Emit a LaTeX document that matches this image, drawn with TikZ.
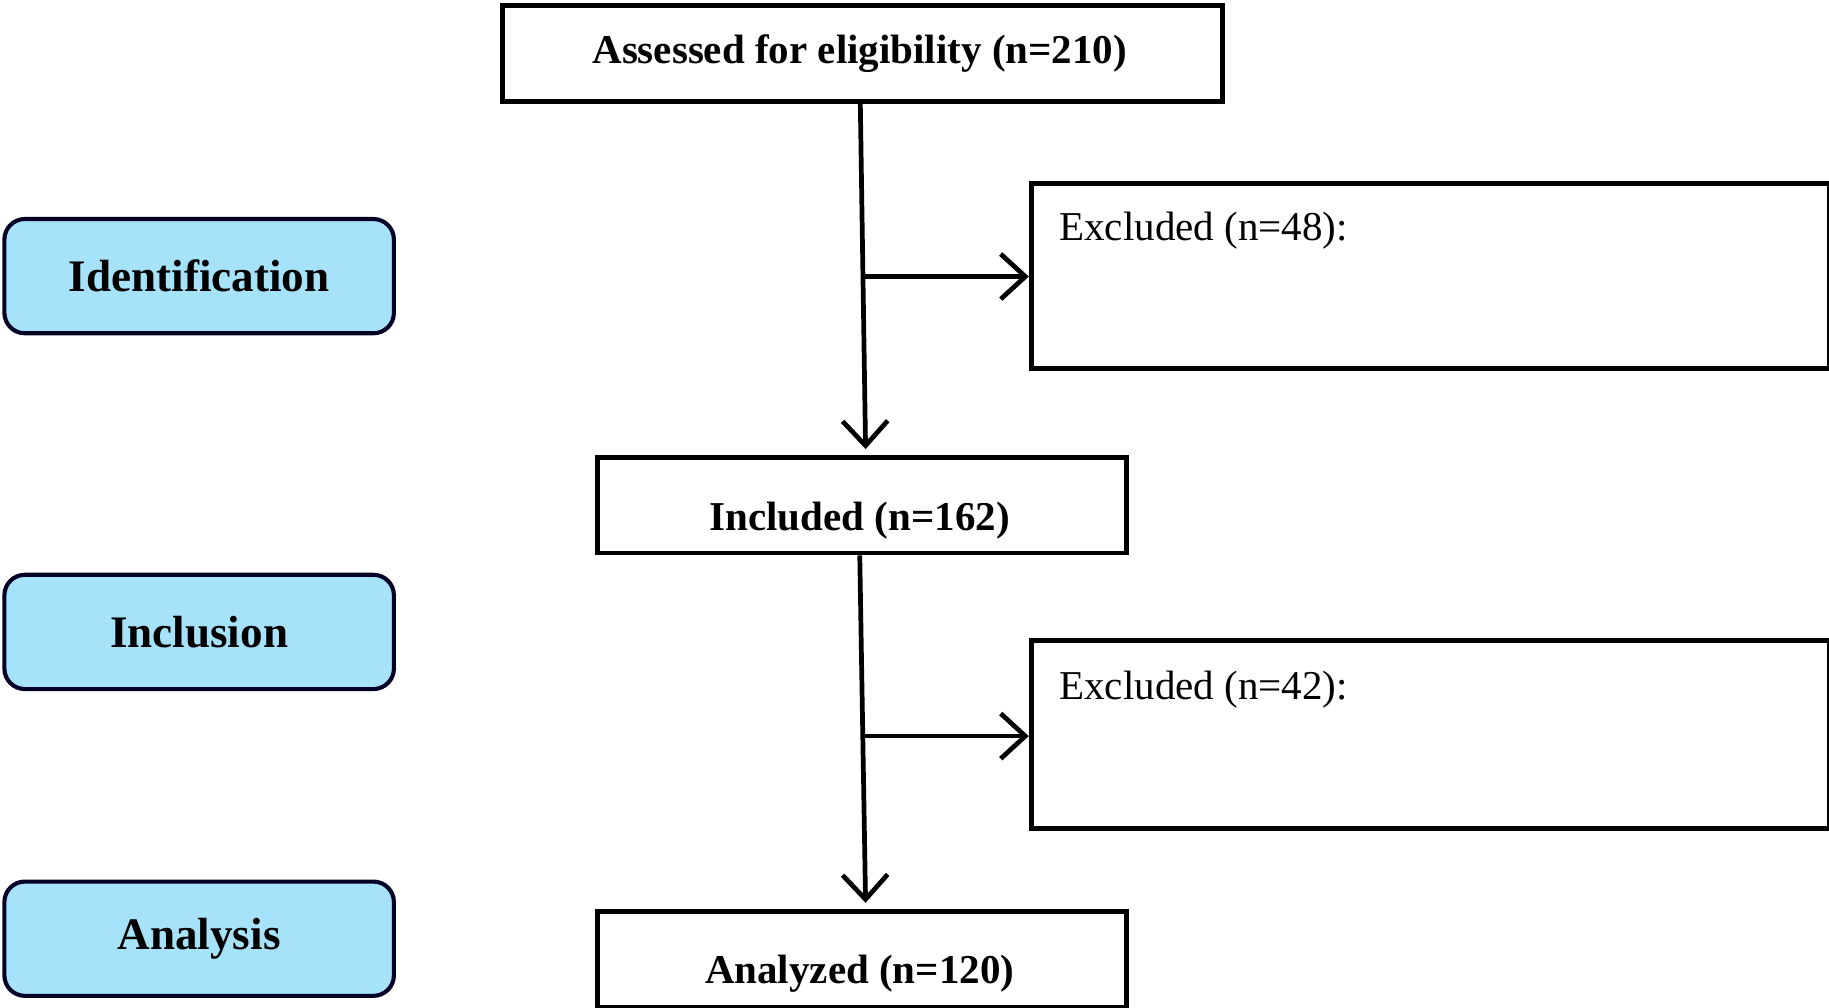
\documentclass[tikz,border=0pt]{standalone}
\usepackage{fontspec}
\setmainfont{Liberation Serif}
\usetikzlibrary{arrows.meta,calc}
\begin{document}
\begin{tikzpicture}[x=0.02cm,y=-0.02cm,
  box/.style={draw=black,line width=2.4pt,inner sep=0pt},
  stage/.style={draw=black!85!blue,line width=2pt,rounded corners=10pt,fill=cyan!35!white,inner sep=0pt,font=\fontsize{22}{26}\selectfont\bfseries},
  conn/.style={line width=2.3pt,-{Straight Barb[length=12pt,width=22pt,line width=2.3pt]}}]
\useasboundingbox (0,0) rectangle (1568,864);
\node[box,minimum width=617\pgflinewidth,anchor=north west,minimum width=12.34cm,minimum height=1.64cm] (A) at (429,3) {};
\node[font=\fontsize{20}{24}\selectfont\bfseries] at (737,46) {Assessed for eligibility (n=210)};
\node[box,anchor=north west,minimum width=13.68cm,minimum height=3.18cm] (E1) at (882,155) {};
\node[anchor=west,font=\fontsize{20}{24}\selectfont] at (902,198) {Excluded (n=48):};
\node[box,anchor=north west,minimum width=9.08cm,minimum height=1.64cm] (I) at (510,390) {};
\node[font=\fontsize{20}{24}\selectfont\bfseries] at (737,446) {Included (n=162)};
\node[box,anchor=north west,minimum width=13.68cm,minimum height=3.22cm] (E2) at (882,547) {};
\node[anchor=west,font=\fontsize{20}{24}\selectfont] at (902,591) {Excluded (n=42):};
\node[box,anchor=north west,minimum width=9.08cm,minimum height=1.66cm] (N) at (510,779) {};
\node[font=\fontsize{20}{24}\selectfont\bfseries] at (737,835) {Analyzed (n=120)};
\node[stage,anchor=north west,minimum width=6.68cm,minimum height=1.96cm] (S1) at (2,186) {};
\node at (S1.center) [font=\fontsize{22}{26}\selectfont\bfseries] {Identification};
\node[stage,anchor=north west,minimum width=6.68cm,minimum height=1.96cm] (S2) at (2,491) {};
\node at (S2.center) [font=\fontsize{22}{26}\selectfont\bfseries] {Inclusion};
\node[stage,anchor=north west,minimum width=6.68cm,minimum height=1.96cm] (S3) at (2,754) {};
\node at (S3.center) [font=\fontsize{22}{26}\selectfont\bfseries] {Analysis};
\coordinate (a1) at ($(A.south)+(-2,0)$);
\coordinate (b1) at ($(I.north)+(3,-5)$);
\draw[conn] (a1) -- (b1);
\coordinate (m1) at ($(a1)!0.5!(b1)$);
\draw[conn] (m1) -- (m1 -| E1.west);
\coordinate (a2) at ($(I.south)+(-2,0)$);
\coordinate (b2) at ($(N.north)+(3,-5)$);
\draw[conn] (a2) -- (b2);
\coordinate (m2) at ($(a2)!0.52!(b2)$);
\draw[conn] (m2) -- (m2 -| E2.west);
\end{tikzpicture}
\end{document}
